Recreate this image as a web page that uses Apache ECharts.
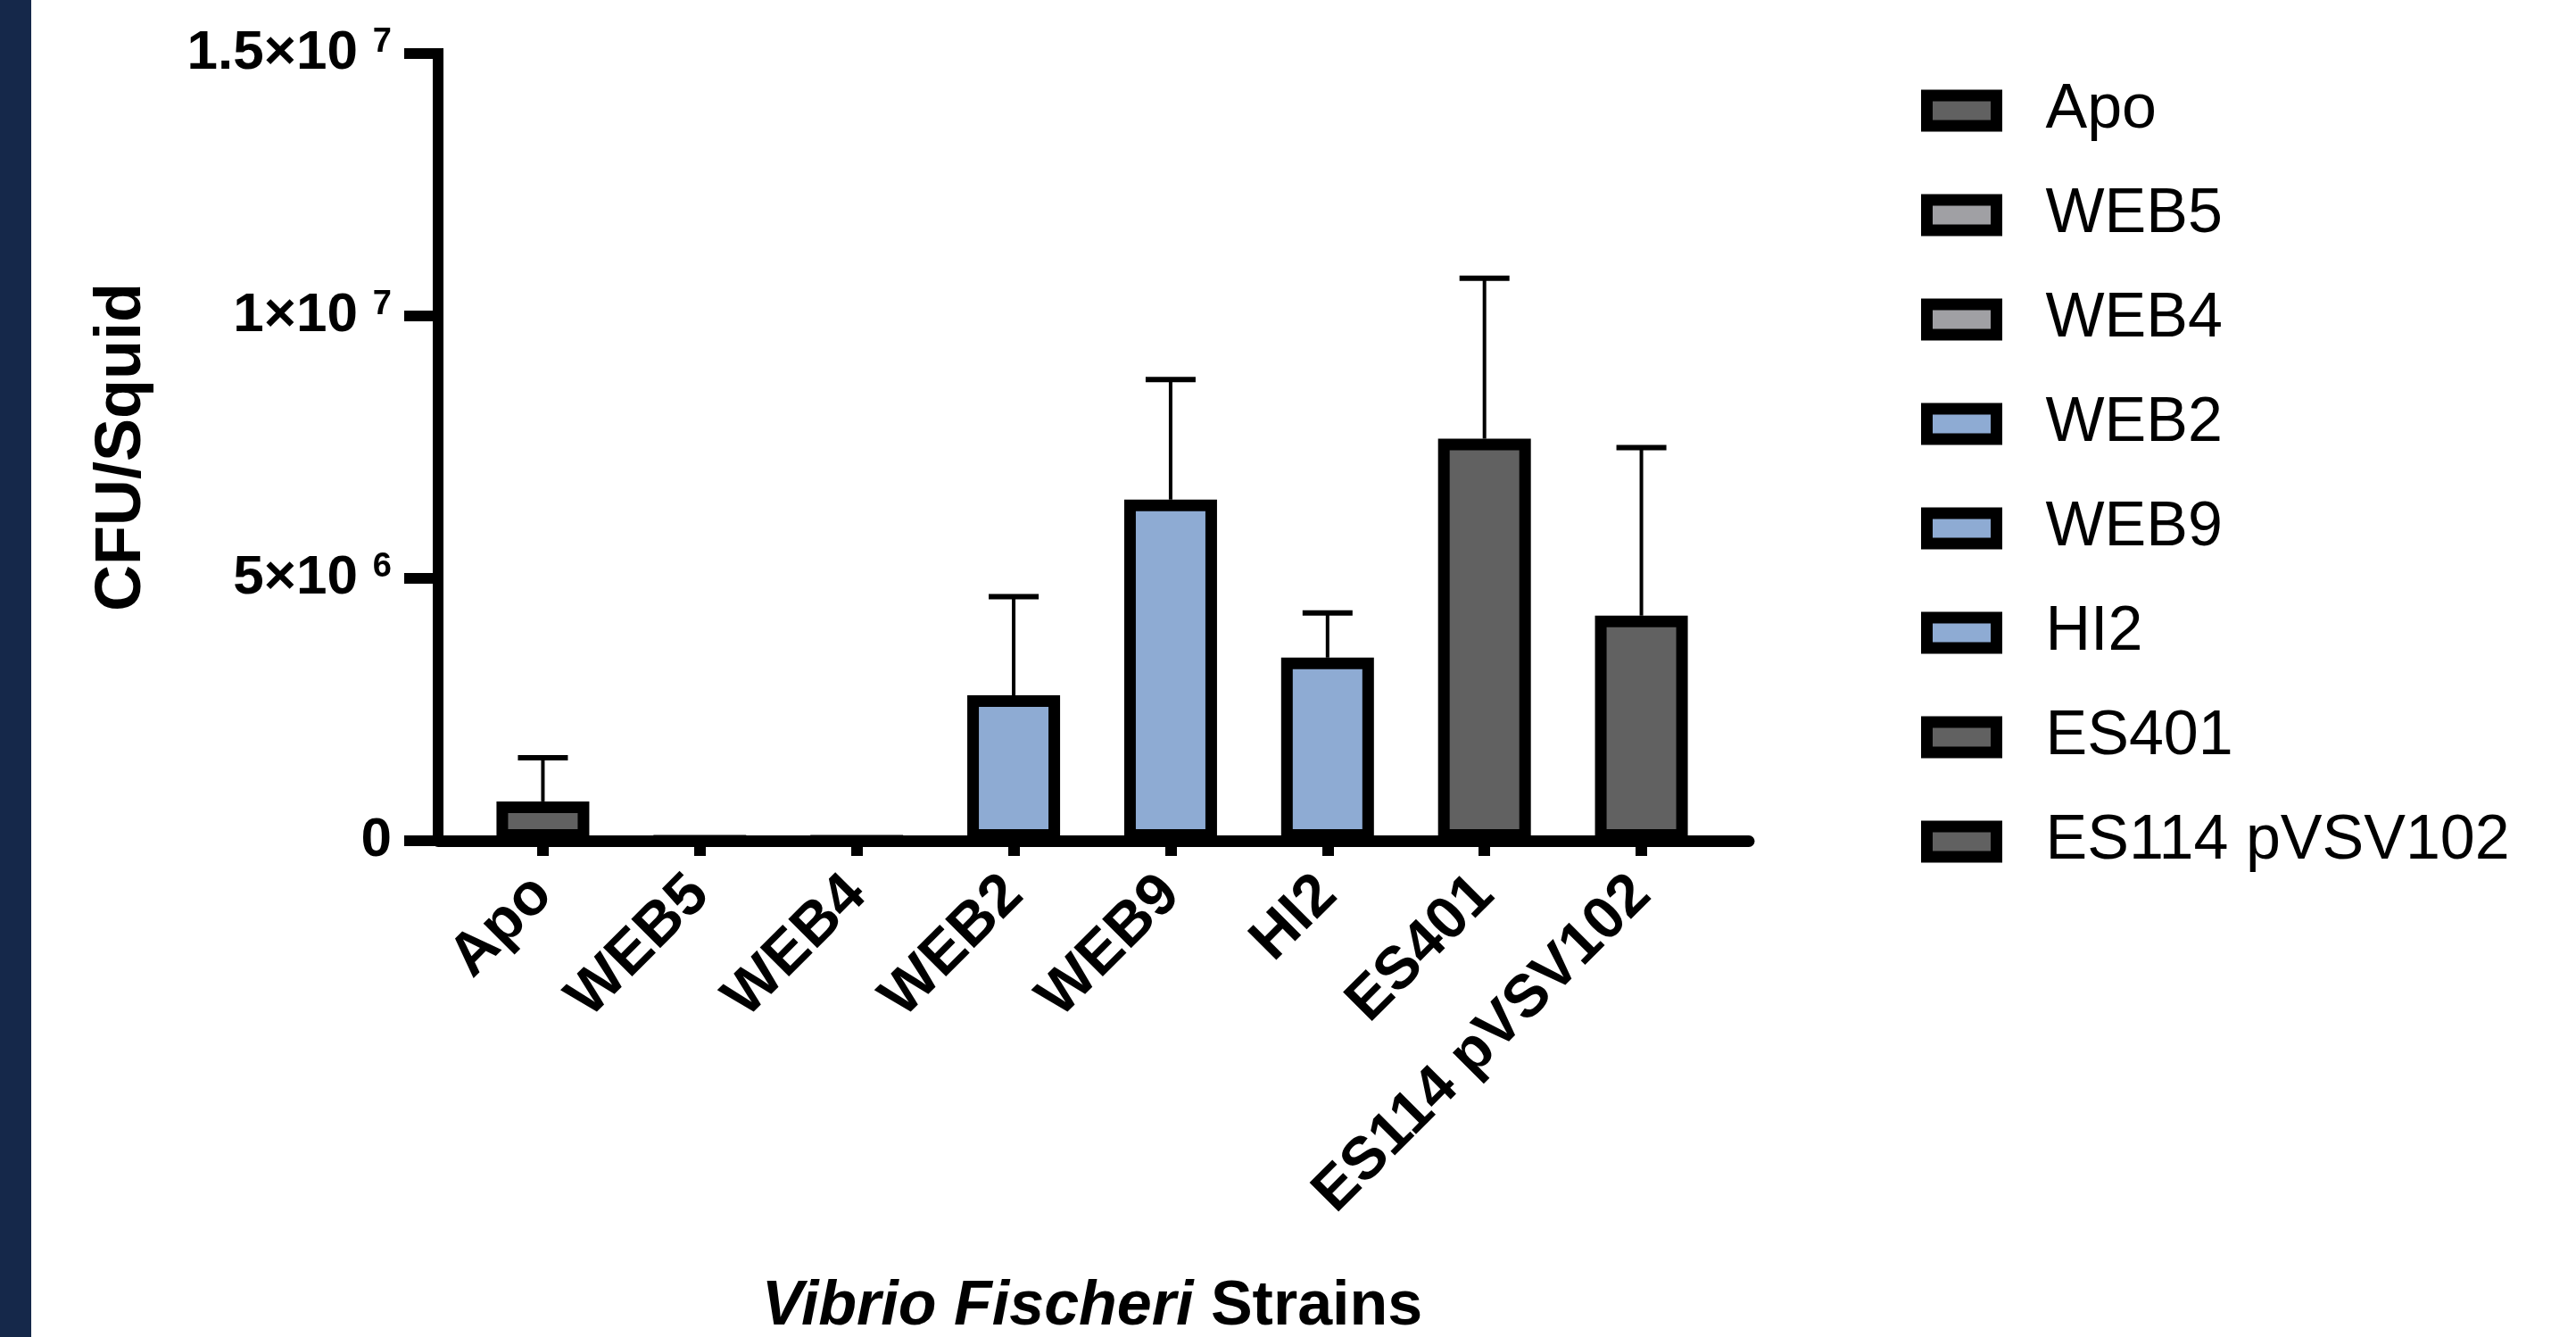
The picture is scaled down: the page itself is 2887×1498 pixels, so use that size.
<!DOCTYPE html>
<html>
<head>
<meta charset="utf-8">
<script src="https://cdn.jsdelivr.net/npm/echarts@6/dist/echarts.min.js"></script>
<style>
html,body{margin:0;padding:0;background:#fff;}
#c{width:2887px;height:1498px;}
</style>
</head>
<body>
<div id="c"></div>
<script>
// ---- data ----
const categories = ['Apo', 'WEB5', 'WEB4', 'WEB2', 'WEB9', 'HI2', 'ES401', 'ES114 pVSV102'];
const means = [0.75e6, 0, 0, 2.77e6, 6.5e6, 3.49e6, 7.66e6, 4.29e6];
const errors = [0.83e6, 0, 0, 1.88e6, 2.29e6, 0.85e6, 3.06e6, 3.2e6];
const barColors = ['#616161', '#a0a0a4', '#a0a0a4', '#8eabd3', '#8eabd3', '#8eabd3', '#616161', '#616161'];
const yTickValues = [0, 5e6, 1e7, 1.5e7];
const yTickMain = ['0', '5×10', '1×10', '1.5×10'];
const yTickSup = ['', '6', '7', '7'];

const FONT = '"Liberation Sans", Arial, Helvetica, sans-serif';

const chart = echarts.init(document.getElementById('c'), null, {renderer: 'canvas'});

const barSeries = categories.map((name, i) => ({
  name: name,
  type: 'bar',
  xAxisIndex: 0,
  yAxisIndex: 0,
  barWidth: 104,
  barGap: '-100%',
  data: categories.map((c, j) => (j === i ? means[j] : null)),
  itemStyle: {color: barColors[i], borderColor: '#000', borderWidth: 13},
  z: 3
}));

const errSeries = {
  type: 'custom',
  xAxisIndex: 0,
  yAxisIndex: 0,
  z: 2,
  data: categories.map((c, i) => [i, means[i], errors[i]]),
  encode: {x: 0, y: 1},
  renderItem: function (params, api) {
    const x = api.value(0), m = api.value(1), e = api.value(2);
    if (!e) return null;
    const p0 = api.coord([x, m]);
    const p1 = api.coord([x, m + e]);
    const hw = 28;
    return {
      type: 'group',
      children: [
        {type: 'line', shape: {x1: p0[0], y1: p0[1], x2: p1[0], y2: p1[1]}, style: {stroke: '#000', lineWidth: 4}},
        {type: 'line', shape: {x1: p1[0] - hw, y1: p1[1], x2: p1[0] + hw, y2: p1[1]}, style: {stroke: '#000', lineWidth: 6}}
      ]
    };
  }
};

const option = {
  animation: false,
  backgroundColor: '#fff',
  graphic: [
    {type: 'rect', left: 0, top: 0, shape: {width: 35, height: 1498}, style: {fill: '#15284a'}, z: 0}
  ],
  grid: [
    {left: 520.5, right: 959.5, top: 60, bottom: 556, containLabel: false, outerBoundsMode: 'none'},
    {left: 491, right: 927, top: 60, bottom: 556, containLabel: false, outerBoundsMode: 'none'}
  ],
  legend: {
    orient: 'vertical',
    left: 2148,
    top: 84,
    icon: 'rect',
    itemWidth: 78,
    itemHeight: 34,
    itemGap: 47,
    itemStyle: {borderColor: '#000', borderWidth: 13},
    textStyle: {fontSize: 70, fontFamily: FONT, color: '#000', padding: [0, 0, 0, 50]},
    data: categories
  },
  xAxis: [
    {
      type: 'category',
      gridIndex: 0,
      data: categories,
      boundaryGap: true,
      axisLine: {show: true, lineStyle: {color: '#000', width: 13}},
      axisTick: {show: true, alignWithLabel: true, length: 17, lineStyle: {color: '#000', width: 13}},
      axisLabel: {rotate: 45, margin: 50, fontSize: 67, fontWeight: 'bold', fontFamily: FONT, color: '#000', interval: 0},
      splitLine: {show: false},
      name: '{i|Vibrio Fischeri} {b|Strains}',
      nameLocation: 'middle',
      nameGap: 488,
      nameTextStyle: {
        fontSize: 70, fontWeight: 'bold', fontFamily: FONT, color: '#000',
        rich: {
          i: {fontSize: 70, fontWeight: 'bold', fontStyle: 'italic', fontFamily: FONT, color: '#000'},
          b: {fontSize: 70, fontWeight: 'bold', fontFamily: FONT, color: '#000'}
        }
      }
    },
    {
      type: 'value',
      gridIndex: 1,
      min: 0, max: 1,
      axisLine: {show: true, onZero: false, lineStyle: {color: '#000', width: 13}},
      axisTick: {show: false},
      axisLabel: {show: false},
      splitLine: {show: false}
    }
  ],
  yAxis: [
    {
      type: 'value',
      gridIndex: 0,
      min: 0,
      max: 1.5e7,
      interval: 5e6,
      offset: 29.5,
      axisLine: {show: true, lineStyle: {color: '#000', width: 12, cap: 'square'}},
      axisTick: {show: true, length: 38, lineStyle: {color: '#000', width: 12}},
      splitLine: {show: false},
      axisLabel: {
        margin: 52,
        fontFamily: FONT,
        formatter: function (v) {
          const idx = yTickValues.indexOf(v);
          if (idx < 0) return '';
          if (!yTickSup[idx]) return '{m|' + yTickMain[idx] + '}';
          return '{m|' + yTickMain[idx] + '}{s|' + yTickSup[idx] + '}';
        },
        rich: {
          m: {fontSize: 62, fontWeight: 'bold', fontFamily: FONT, color: '#000', lineHeight: 62},
          s: {fontSize: 38, fontWeight: 'bold', fontFamily: FONT, color: '#000', lineHeight: 38, verticalAlign: 'top', padding: [0, 0, 0, 17]}
        }
      },
      name: 'CFU/Squid',
      nameLocation: 'middle',
      nameRotate: 90,
      nameGap: 318,
      nameTextStyle: {fontSize: 72, fontWeight: 'bold', fontFamily: FONT, color: '#000'}
    },
    {
      type: 'value',
      gridIndex: 1,
      min: 0, max: 1,
      show: false
    }
  ],
  series: barSeries.concat([errSeries])
};

chart.setOption(option);
</script>
</body>
</html>
